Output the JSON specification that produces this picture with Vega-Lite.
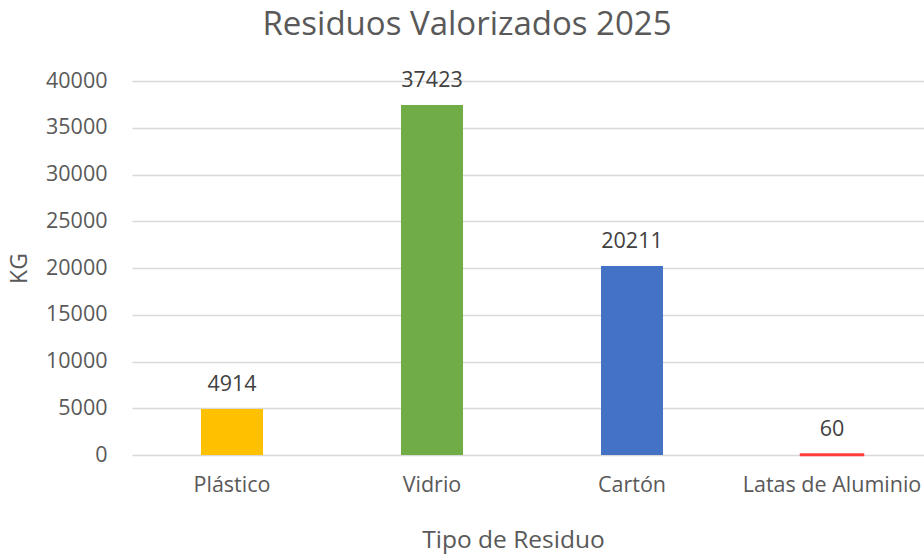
{
  "$schema": "https://vega.github.io/schema/vega-lite/v6.json",
  "autosize": {"type": "none"},
  "padding": {"left": 132, "top": 81, "right": 0, "bottom": 100},
  "width": 800,
  "height": 374,
  "background": "white",
  "title": {
    "text": "Residuos Valorizados 2025",
    "font": "Open Sans",
    "fontSize": 33,
    "fontWeight": "normal",
    "color": "#595959",
    "anchor": "middle",
    "frame": "group",
    "dx": -65,
    "offset": 2,
    "baseline": "alphabetic"
  },
  "data": {
    "values": [
      {"tipo": "Plástico", "kg": 4914},
      {"tipo": "Vidrio", "kg": 37423},
      {"tipo": "Cartón", "kg": 20211},
      {"tipo": "Latas de Aluminio", "kg": 60}
    ]
  },
  "encoding": {
    "x": {
      "field": "tipo",
      "type": "nominal",
      "sort": null,
      "scale": {"paddingInner": 0, "paddingOuter": 0},
      "axis": {
        "title": "Tipo de Residuo",
        "titleX": 381,
        "titleFont": "Open Sans",
        "titleFontSize": 24.5,
        "titleFontWeight": "normal",
        "titleColor": "#595959",
        "titlePadding": 33,
        "labelFont": "Open Sans",
        "labelFontSize": 21.5,
        "labelColor": "#595959",
        "labelAngle": 0,
        "labelPadding": 19,
        "ticks": false,
        "domain": false,
        "grid": false
      }
    },
    "y": {
      "field": "kg",
      "type": "quantitative",
      "scale": {"domain": [0, 40000], "nice": false},
      "axis": {
        "title": "KG",
        "titleFont": "Open Sans",
        "titleFontSize": 23,
        "titleFontWeight": "normal",
        "titleColor": "#595959",
        "titlePadding": 14,
        "values": [0, 5000, 10000, 15000, 20000, 25000, 30000, 35000, 40000],
        "format": "d",
        "labelFont": "Open Sans",
        "labelFontSize": 21.5,
        "labelColor": "#595959",
        "labelPadding": 25,
        "ticks": false,
        "domain": false,
        "gridColor": "#D9D9D9",
        "gridWidth": 1.3
      }
    }
  },
  "layer": [
    {
      "mark": {"type": "bar", "width": {"band": 0.31}},
      "encoding": {
        "color": {
          "field": "tipo",
          "type": "nominal",
          "scale": {
            "domain": ["Plástico", "Vidrio", "Cartón", "Latas de Aluminio"],
            "range": ["#FFC000", "#70AD47", "#4472C4", "#FF0000"]
          },
          "legend": null
        },
        "stroke": {
          "field": "tipo",
          "type": "nominal",
          "scale": {
            "domain": ["Plástico", "Vidrio", "Cartón", "Latas de Aluminio"],
            "range": ["#FFC000", "#70AD47", "#4472C4", "#FF3B3B"]
          },
          "legend": null
        },
        "strokeWidth": {"condition": {"test": "datum.kg < 1000", "value": 2.5}, "value": 0}
      }
    },
    {
      "mark": {
        "type": "text",
        "font": "Open Sans",
        "fontSize": 21.5,
        "color": "#404040",
        "baseline": "alphabetic",
        "dy": -18
      },
      "encoding": {
        "text": {"field": "kg", "type": "quantitative", "format": "d"}
      }
    }
  ],
  "config": {"view": {"stroke": null}}
}
